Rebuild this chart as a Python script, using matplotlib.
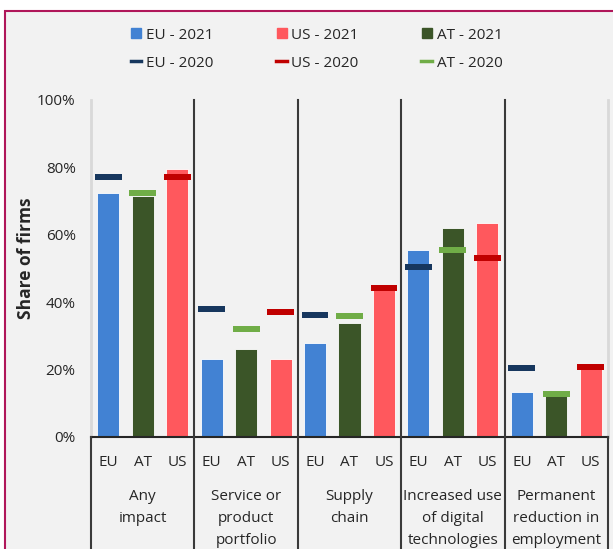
import matplotlib.pyplot as plt
from matplotlib.patches import Rectangle
from matplotlib.lines import Line2D
import numpy as np

plt.rcParams['font.family'] = ['Open Sans', 'DejaVu Sans']

# data
categories = ["Any\nimpact", "Service or\nproduct\nportfolio", "Supply\nchain",
              "Increased use\nof digital\ntechnologies", "Permanent\nreduction in\nemployment"]
regions = ["EU", "AT", "US"]
eu_2021 = [72.3, 23.1, 27.9, 55.5, 13.3]
at_2021 = [71.6, 26.2, 33.7, 62.1, 12.2]
us_2021 = [79.4, 23.1, 43.6, 63.5, 20.2]
eu_2020 = [77.2, 38.0, 36.2, 50.4, 20.5]
at_2020 = [72.4, 32.0, 35.9, 55.5, 12.8]
us_2020 = [77.2, 37.1, 44.2, 53.1, 20.8]

c_eu21, c_at21, c_us21 = '#4282D3', '#3B5528', '#FF585D'
c_eu20, c_at20, c_us20 = '#17375E', '#70AD47', '#C00000'

fig = plt.figure(figsize=(6.13, 5.49), dpi=100, facecolor='white')
# chart frame
fig.patches.append(Rectangle((5 / 613, -0.1), 1.2, 1.1 - 11 / 549,
                             transform=fig.transFigure, facecolor='#F2F2F2',
                             edgecolor='#B0175A', linewidth=1.5, zorder=-10))
ax = fig.add_axes([91 / 613, (549 - 437) / 549, (608 - 91) / 613, (437 - 100) / 549])
ax.set_facecolor('none')

n = len(categories)
base = np.arange(n) * 3
bw, mw, mh = 0.64, 0.78, 1.8
series = [(eu_2021, eu_2020, c_eu21, c_eu20, 0),
          (at_2021, at_2020, c_at21, c_at20, 1),
          (us_2021, us_2020, c_us21, c_us20, 2)]
for v21, v20, c21, c20, off in series:
    x = base + off
    ax.bar(x, v21, width=bw, color=c21, edgecolor='white', linewidth=0.6, zorder=2)
    ax.bar(x, mh, bottom=np.array(v20) - mh / 2, width=mw, color=c20, zorder=3)

ax.set_xlim(-0.5, 3 * n - 0.5)
ax.set_ylim(0, 100)
ax.set_yticks(np.arange(0, 101, 20))
ax.set_yticklabels([f"{v}%" for v in range(0, 101, 20)], fontsize=11, color='#262626')
ax.tick_params(axis='y', length=0, pad=11)
ax.set_xticks(np.arange(3 * n))
ax.set_xticklabels(regions * n, fontsize=11, color='#262626')
ax.tick_params(axis='x', length=0, pad=13)
ax.set_ylabel("Share of firms", fontsize=12.5, fontweight='bold', color='#262626')
ax.yaxis.set_label_coords(-56 / 517, 0.531)

for s in ['top', 'right']:
    ax.spines[s].set_visible(False)
ax.spines['left'].set_color('#D9D9D9')
ax.spines['left'].set_linewidth(2)
ax.spines['bottom'].set_color('#262626')
ax.spines['bottom'].set_linewidth(1.5)

# group separators and category table
xt = ax.get_xaxis_transform()
ax.plot([3 * n - 0.5] * 2, [0, 1], transform=xt, color='#D9D9D9', linewidth=2, clip_on=False)
for b in np.arange(n + 1) * 3 - 0.5:
    top = 1.0 if 0 < b < 3 * n - 1 else 0.0
    ax.plot([b, b], [top, -0.5], transform=xt, color='#3A3A3A',
            linewidth=1.5, clip_on=False, zorder=4)
for i, cat in enumerate(categories):
    ax.text(base[i] + 1, -0.154, cat, transform=xt, ha='center',
            va='top', fontsize=11, color='#262626', linespacing=1.62)

handles = [Line2D([], [], marker='s', linestyle='none', markersize=6.5, color=c_eu21),
           Line2D([], [], color=c_eu20, linewidth=2.5),
           Line2D([], [], marker='s', linestyle='none', markersize=6.5, color=c_us21),
           Line2D([], [], color=c_us20, linewidth=2.5),
           Line2D([], [], marker='s', linestyle='none', markersize=6.5, color=c_at21),
           Line2D([], [], color=c_at20, linewidth=2.5)]
labels = ["EU - 2021", "EU - 2020", "US - 2021", "US - 2020", "AT - 2021", "AT - 2020"]
fig.legend(handles, labels, ncol=3, loc='upper left', bbox_to_anchor=(117 / 613, 1 - 14 / 549),
           frameon=False, fontsize=11, handlelength=0.7, handletextpad=0.3,
           columnspacing=4.1, labelspacing=0.85, labelcolor='#262626')

fig.savefig('out.png', dpi=100, facecolor=fig.get_facecolor())
